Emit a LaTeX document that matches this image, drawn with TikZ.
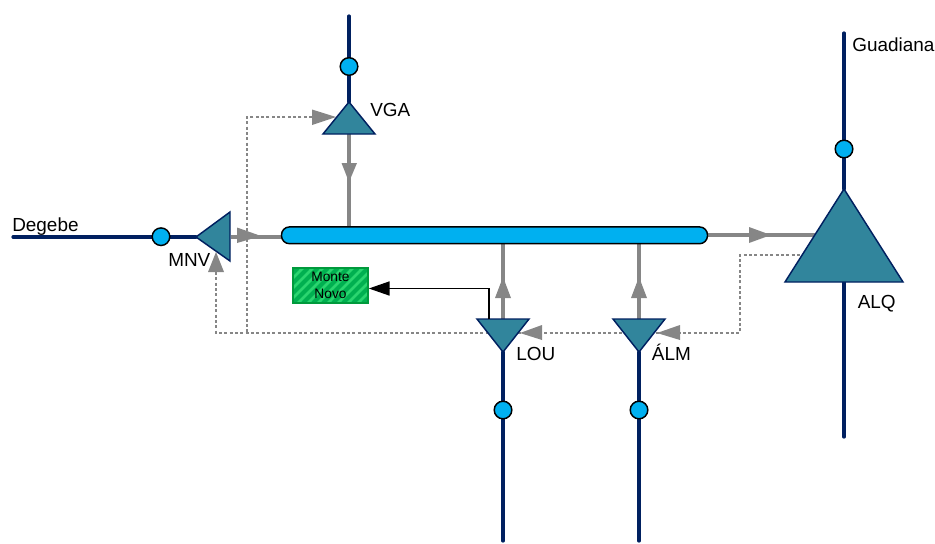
\documentclass[tikz,border=0pt]{standalone}
\usepackage{fontspec}
\setmainfont{Liberation Sans}
\usetikzlibrary{arrows.meta}
\definecolor{riv}{HTML}{002060}
\definecolor{teal1}{HTML}{31859C}
\definecolor{cyan1}{HTML}{00B0F0}
\definecolor{grn}{HTML}{00B050}
\definecolor{grn2}{HTML}{2AD56F}
\definecolor{grnb}{HTML}{009A3C}
\definecolor{gry}{HTML}{868686}
\tikzset{x=0.75pt,y=-0.75pt,
 river/.style={draw=riv,line width=2.4pt,line cap=round},
 flow/.style={draw=gry,line width=3pt},
 ctrl/.style={draw=gry,line width=0.8pt,dash pattern=on 2.2pt off 1.8pt},
 ghead/.style={fill=gry,draw=none},
 res/.style={fill=teal1,draw=riv,line width=1.1pt,line join=miter},
 station/.style={circle,fill=cyan1,draw=black,line width=1.1pt,minimum size=13.2pt,inner sep=0pt},
 lab/.style={font=\fontsize{14.2pt}{16pt}\selectfont,inner sep=0pt,text=black,anchor=base west}}
\begin{document}
\begin{tikzpicture}
\useasboundingbox (0,0) rectangle (935,543);
% free ends and reservoir tips
\coordinate (dgA) at (13,237);
\coordinate (vgaTop) at (349,16);
\coordinate (alqTop) at (844,33);
\coordinate (alqBot) at (844,437);
\coordinate (louBot) at (503,541);
\coordinate (almBot) at (639,541);
\coordinate (mnvTip) at (196,237);
\coordinate (vgaTip) at (349,102);
\coordinate (louTip) at (503,352);
\coordinate (almTip) at (639,352);
\coordinate (alqTip) at (844,189);
% rivers
\draw[river] (dgA) -- (mnvTip);
\draw[river] (vgaTop) -- (vgaTip);
\draw[river] (alqTop) -- (alqTip);
\draw[river] (844,282) -- (alqBot);
\draw[river] (louTip) -- (louBot);
\draw[river] (almTip) -- (almBot);
% flows
\draw[flow] (231,236.5) -- (285,236.5);
\draw[flow] (349,134) -- (349,230);
\draw[flow] (503,240) -- (503,319);
\draw[flow] (639,240) -- (639,319);
\draw[flow] (705,235) -- (815,235);
% control lines
\draw[ctrl] (312,117) -- (247,117) -- (247,333);
\draw[ctrl] (216,272) -- (216,333) -- (740,333) -- (740,255) -- (815,255);
% arrowheads
\fill[ghead] (237,227.5) -- (261,236) -- (237,243) -- cycle;
\fill[ghead] (312,109.5) -- (336,117) -- (312,125) -- cycle;
\fill[ghead] (341.5,163) -- (357,163) -- (349,182) -- cycle;
\fill[ghead] (495,298) -- (511,298) -- (503,277) -- cycle;
\fill[ghead] (631,298) -- (647,298) -- (639,277) -- cycle;
\fill[ghead] (542,325) -- (542,340) -- (520,333) -- cycle;
\fill[ghead] (680,325) -- (680,340) -- (657,333) -- cycle;
\fill[ghead] (208,272) -- (224,272) -- (216,252) -- cycle;
\fill[ghead] (749,227) -- (749,243) -- (771,235) -- cycle;
% reservoirs
\filldraw[res] (mnvTip) -- (230,212) -- (230,261) -- cycle;
\filldraw[res] (vgaTip) -- (375,134) -- (323,134) -- cycle;
\filldraw[res] (477,319) -- (529,319) -- (louTip) -- cycle;
\filldraw[res] (613,319) -- (665,319) -- (almTip) -- cycle;
\filldraw[res] (alqTip) -- (903,282) -- (785,282) -- cycle;
% canal
\node[fill=cyan1,draw=black,line width=1.1pt,rounded corners=6pt,minimum width=319.5pt,minimum height=12.6pt,inner sep=0pt] (canal) at (494.5,235.3) {};
% stations
\node[station] (s1) at (161,236.7) {};
\node[station] (s2) at (349,66.5) {};
\node[station] (s3) at (844,149) {};
\node[station] (s4) at (503,410) {};
\node[station] (s5) at (639,410) {};
% Monte Novo
\fill[grn2] (293,268) rectangle (368,303);
\begin{scope}
\clip (293,268) rectangle (368,303);
\foreach \d in {-40,-30,...,130}{
  \draw[grn,line width=3pt] (293+\d,303) -- (293+\d+35,268);
}
\end{scope}
\node[draw=grnb,line width=1.3pt,minimum width=56.2pt,minimum height=26.2pt,inner sep=0pt,align=center,font=\fontsize{10.3pt}{13pt}\selectfont,text=black] (mn) at (330.5,285.5) {Monte\\Novo};
\coordinate (louOut) at (489,319);
\draw[black,line width=1.1pt,-{Triangle[length=15.5pt,width=10.5pt]}] (louOut) -- (489,288.5) -- (mn.east |- 0,288.5);
% labels
\node[lab] at (12,231.7) {Degebe};
\node[lab] at (168,266) {MNV};
\node[lab] at (370,116.7) {VGA};
\node[lab] at (852,51.7) {Guadiana};
\node[lab] at (857.5,308) {ALQ};
\node[lab] at (516,360) {LOU};
\node[lab] at (651.7,360) {ÁLM};
\end{tikzpicture}
\end{document}
